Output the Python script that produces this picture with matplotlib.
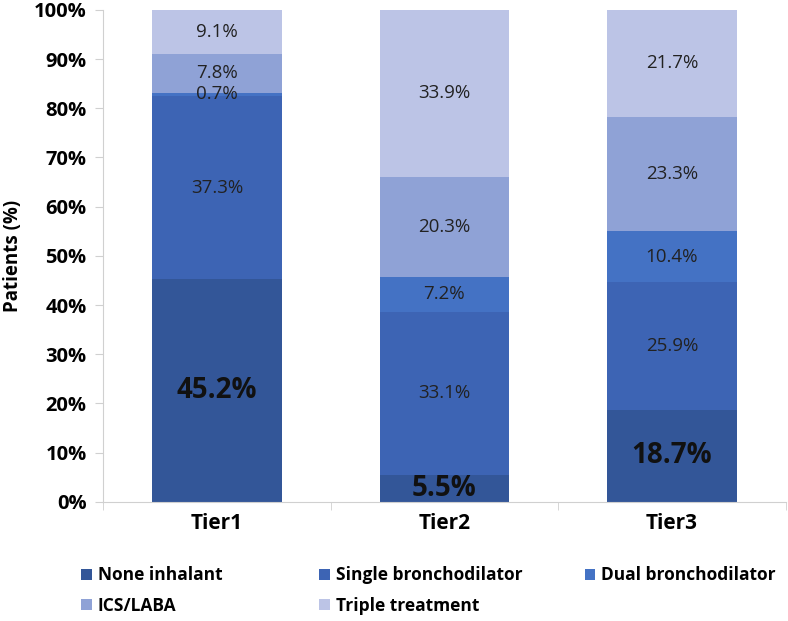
import numpy as np
import matplotlib.pyplot as plt
from matplotlib.ticker import PercentFormatter

plt.rcParams['font.family'] = ['Open Sans', 'DejaVu Sans']

# Data
tiers = ['Tier1', 'Tier2', 'Tier3']
series = ['None inhalant', 'Single bronchodilator', 'Dual bronchodilator',
          'ICS/LABA', 'Triple treatment']
none_inhalant = [45.2, 5.5, 18.7]
single_bd = [37.3, 33.1, 25.9]
dual_bd = [0.7, 7.2, 10.4]
ics_laba = [7.8, 20.3, 23.3]
triple = [9.1, 33.9, 21.7]
colors = ['#335698', '#3d64b4', '#4472c4', '#8fa2d6', '#bcc4e6']

values = [none_inhalant, single_bd, dual_bd, ics_laba, triple]

fig = plt.figure(figsize=(7.88, 6.21), dpi=100)
ax = fig.add_axes([0.131, 0.192, 0.866, 0.792])

x = np.arange(len(tiers))
bottom = np.zeros(len(tiers))
bars = []
for i, (name, vals) in enumerate(zip(series, values)):
    vals = np.array(vals)
    b = ax.bar(x, vals, 0.57, bottom=bottom, color=colors[i], label=name)
    bars.append(b)
    for xi, v, b0 in zip(x, vals, bottom):
        if i == 0:
            ax.text(xi, b0 + v / 2, f'{v}%', ha='center', va='center',
                    fontsize=20, fontweight='bold', color='#111111')
        else:
            ax.text(xi, b0 + v / 2, f'{v}%', ha='center', va='center',
                    fontsize=13.5, color='#222222')
    bottom = bottom + vals

ax.set_xlim(-0.5, 2.5)
ax.set_ylim(0, 100)
ax.set_yticks(np.arange(0, 101, 10))
ax.yaxis.set_major_formatter(PercentFormatter(decimals=0))
ax.set_xticks(x)
ax.set_xticklabels(tiers)
ax.set_xticks([-0.5, 0.5, 1.5, 2.5], minor=True)
ax.tick_params(axis='x', which='major', length=0, pad=8)
ax.tick_params(axis='x', which='minor', length=6, color='#d0d0d0')
ax.tick_params(axis='y', length=6, color='#d0d0d0', pad=6)
for lab in ax.get_yticklabels():
    lab.set_fontweight('bold')
    lab.set_fontsize(14.5)
for lab in ax.get_xticklabels():
    lab.set_fontweight('bold')
    lab.set_fontsize(15)
ax.set_ylabel('Patients (%)', fontsize=13.5, fontweight='bold', labelpad=8)

for s in ['top', 'right']:
    ax.spines[s].set_visible(False)
for s in ['left', 'bottom']:
    ax.spines[s].set_color('#d0d0d0')

# legend as three columns at fixed positions
cols = [[0, 3], [1, 4], [2]]
xs = [0.103, 0.405, 0.742]
for c, xpos in zip(cols, xs):
    leg = fig.legend([bars[k] for k in c], [series[k] for k in c],
                     loc='upper left', bbox_to_anchor=(xpos, 0.088), frameon=False,
                     handlelength=0.6, handleheight=0.6, handletextpad=0.35,
                     labelspacing=0.7, borderaxespad=0, borderpad=0,
                     prop={'weight': 'bold', 'size': 12.5})

fig.savefig('out.png', dpi=100)
